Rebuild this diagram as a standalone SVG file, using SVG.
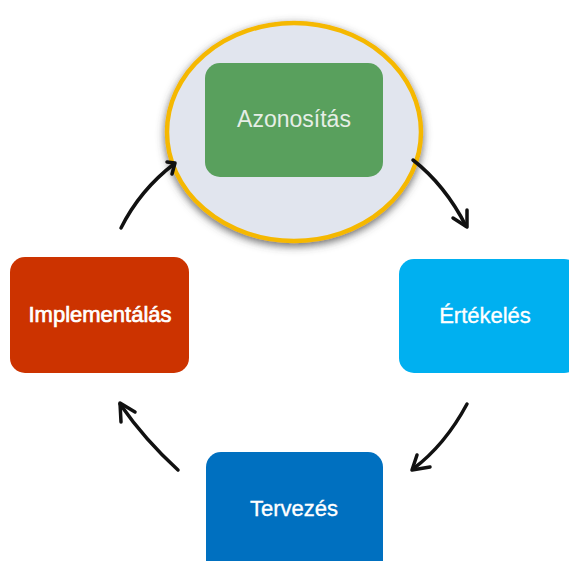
<svg xmlns="http://www.w3.org/2000/svg" width="569" height="561" viewBox="0 0 569 561">
<defs>
<style>
.box text{font-family:"Liberation Sans",Arial,sans-serif;font-size:22px;text-anchor:middle;fill:#ffffff;stroke:#ffffff;stroke-width:0.35px}
.arrow{fill:none;stroke:#111111;stroke-width:3.5;stroke-linecap:round;stroke-linejoin:round}
</style>
<filter id="sh" x="-20%" y="-20%" width="140%" height="140%">
<feGaussianBlur in="SourceAlpha" stdDeviation="4"/>
<feOffset dx="0" dy="3" result="b"/>
<feFlood flood-color="#444" flood-opacity="0.8"/>
<feComposite in2="b" operator="in" result="s"/>
<feMerge><feMergeNode in="s"/><feMergeNode in="SourceGraphic"/></feMerge>
</filter>
</defs>
<rect width="569" height="561" fill="#ffffff"/>
<g id="highlight">
<ellipse cx="294" cy="132" rx="127" ry="109" fill="#E1E5EE" stroke="#F5B800" stroke-width="4.5" filter="url(#sh)"/>
</g>
<g id="azonositas" class="box">
<rect x="205" y="63" width="178" height="114" rx="15" fill="#59A05D"/>
<text x="294" y="127" style="fill:#E6EEE6;stroke:none;font-size:23px">Azonosítás</text>
</g>
<g id="ertekeles" class="box">
<rect x="399" y="259" width="180" height="114" rx="15" fill="#00B0F0"/>
<text x="485" y="323">Értékelés</text>
</g>
<g id="tervezes" class="box">
<rect x="206" y="452" width="177" height="130" rx="15" fill="#0070C0"/>
<text x="294" y="516">Tervezés</text>
</g>
<g id="implementalas" class="box">
<rect x="10" y="257" width="179" height="116" rx="15" fill="#CC3300"/>
<text x="100" y="322" style="stroke-width:0.7px">Implementálás</text>
</g>
<g id="connectors">
<path class="arrow" d="M413,160 Q445,185 466,226"/>
<path class="arrow" d="M453,218 L467,227 L467,210"/>
<path class="arrow" d="M467,404 Q445,445 413,469"/>
<path class="arrow" d="M417,455 L412,470 L430,467"/>
<path class="arrow" d="M178,470 Q145,440 120,404"/>
<path class="arrow" d="M121,422 L120,403 L135,412"/>
<path class="arrow" d="M121,228 Q140,190 174,164"/>
<path class="arrow" d="M167,162 L175,163 L172,174"/>
</g>
</svg>
